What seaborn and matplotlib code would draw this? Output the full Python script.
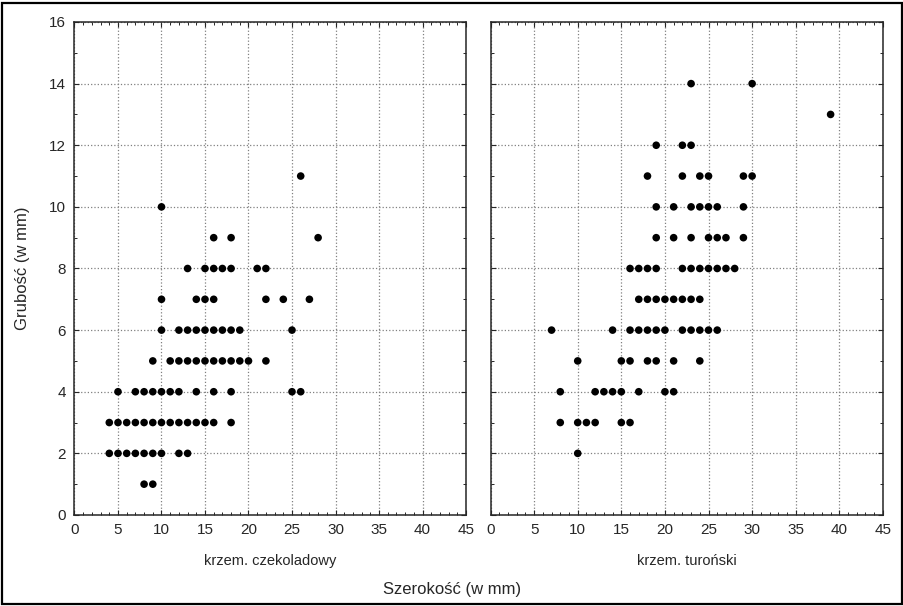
import numpy as np
import pandas as pd
import matplotlib
matplotlib.use("Agg")
import matplotlib.pyplot as plt
from matplotlib.patches import Rectangle
from matplotlib.ticker import MultipleLocator
import seaborn as sns

# values read row by row: thickness level -> list of widths
czek_levels = [1, 2, 3, 4, 5, 6, 7, 8, 9, 10, 11]
czek_widths = [
    [8, 9],
    [4, 5, 6, 7, 8, 9, 10, 12, 13],
    [4, 5, 6, 7, 8, 9, 10, 11, 12, 13, 14, 15, 16, 18],
    [5, 7, 8, 9, 10, 11, 12, 14, 16, 18, 25, 26],
    [9, 11, 12, 13, 14, 15, 16, 17, 18, 19, 20, 22],
    [10, 12, 13, 14, 15, 16, 17, 18, 19, 25],
    [10, 14, 15, 16, 22, 24, 27],
    [13, 15, 16, 17, 18, 21, 22],
    [16, 18, 28],
    [10],
    [26],
]

turon_levels = [2, 3, 4, 5, 6, 7, 8, 9, 10, 11, 12, 13, 14]
turon_widths = [
    [10],
    [8, 10, 11, 12, 15, 16],
    [8, 12, 13, 14, 15, 17, 20, 21],
    [10, 15, 16, 18, 19, 21, 24],
    [7, 14, 16, 17, 18, 19, 20, 22, 23, 24, 25, 26],
    [17, 18, 19, 20, 21, 22, 23, 24],
    [16, 17, 18, 19, 22, 23, 24, 25, 26, 27, 28],
    [19, 21, 23, 25, 26, 27, 29],
    [19, 21, 23, 24, 25, 26, 29],
    [18, 22, 24, 25, 29, 30],
    [19, 22, 23],
    [39],
    [23, 30],
]

panel_names = ["krzem. czekoladowy", "krzem. turoński"]
x_ticks = list(range(0, 50, 5))
y_ticks = list(range(0, 18, 2))


def to_frame(levels, widths):
    rows = []
    for lev, xs in zip(levels, widths):
        for w in xs:
            rows.append({"Szerokosc": w, "Grubosc": lev})
    return pd.DataFrame(rows)


sns.set_style("white")
plt.rcParams["font.family"] = ["Liberation Sans Narrow", "Liberation Sans", "DejaVu Sans"]

fig = plt.figure(figsize=(9.04, 6.06), dpi=100)
ax1 = fig.add_axes([0.0824, 0.1502, 0.4331, 0.8135])
ax2 = fig.add_axes([0.5426, 0.1502, 0.4341, 0.8135])

data = [to_frame(czek_levels, czek_widths), to_frame(turon_levels, turon_widths)]

for ax, df, name in zip([ax1, ax2], data, panel_names):
    sns.scatterplot(data=df, x="Szerokosc", y="Grubosc", ax=ax,
                    color="black", s=30, edgecolor="none", zorder=3)
    ax.set_xlim(0, 45)
    ax.set_ylim(0, 16)
    ax.set_xticks(x_ticks)
    ax.set_yticks(y_ticks)
    ax.xaxis.set_minor_locator(MultipleLocator(1))
    ax.yaxis.set_minor_locator(MultipleLocator(1))
    ax.tick_params(which="both", direction="in", top=True, right=True,
                   bottom=True, left=True, color="0.15")
    ax.tick_params(which="major", length=3.5, width=0.8, labelsize=11, pad=6)
    ax.tick_params(which="minor", length=2.5, width=0.7)
    ax.grid(True, which="major", linestyle=":", color="0.5", linewidth=0.9)
    for sp in ax.spines.values():
        sp.set_color("0.15")
        sp.set_linewidth(1.1)
    ax.set_xlabel(name, fontsize=10.5, labelpad=12)
    ax.set_ylabel("")

ax2.tick_params(labelleft=False)
ax1.set_ylabel("Grubość (w mm)", fontsize=12, labelpad=14)
fig.text(0.5, 0.027, "Szerokość (w mm)", ha="center", va="center", fontsize=12)

# outer frame of the scanned figure
fig.patches.append(Rectangle((0.002, 0.003), 0.996, 0.992, transform=fig.transFigure,
                             fill=False, edgecolor="black", linewidth=1.6))

fig.savefig("out.png", dpi=100)
